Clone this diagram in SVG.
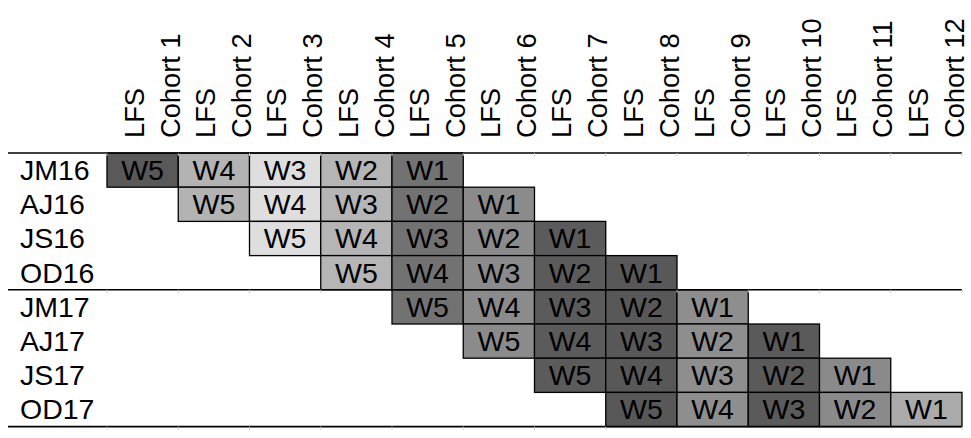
<svg xmlns="http://www.w3.org/2000/svg" width="971" height="438" viewBox="0 0 971 438">
<style>
text{font-family:"Liberation Sans",Arial,sans-serif;font-size:28.5px;fill:#000}
.cell rect{stroke:#000;stroke-width:1.3}
.c{text-anchor:middle}
.rule{stroke:#000;stroke-width:1.6}
.tick{stroke:#c8c8c8;stroke-width:1}
.k1{fill:#595959}.k2{fill:#b3b3b3}.k3{fill:#dedede}.k4{fill:#b5b5b5}.k5{fill:#727272}.k6{fill:#8b8b8b}
.k7{fill:#5b5b5b}.k8{fill:#585858}.k9{fill:#8e8e8e}.k10{fill:#5a5a5a}.k11{fill:#8a8a8a}.k12{fill:#aaaaaa}
</style>
<defs>
<g id="hdr"/>
</defs>
<rect width="971" height="438" fill="#fff"/>
<g id="headers">
<g id="h1" transform="translate(107,138) rotate(-90) scale(0.957,1)"><text x="0" y="37">LFS</text><text x="0" y="73">Cohort 1</text></g>
<g id="h2" transform="translate(178.25,138) rotate(-90) scale(0.957,1)"><text x="0" y="37">LFS</text><text x="0" y="73">Cohort 2</text></g>
<g id="h3" transform="translate(249.5,138) rotate(-90) scale(0.957,1)"><text x="0" y="37">LFS</text><text x="0" y="73">Cohort 3</text></g>
<g id="h4" transform="translate(320.75,138) rotate(-90) scale(0.957,1)"><text x="0" y="37">LFS</text><text x="0" y="73">Cohort 4</text></g>
<g id="h5" transform="translate(392,138) rotate(-90) scale(0.957,1)"><text x="0" y="37">LFS</text><text x="0" y="73">Cohort 5</text></g>
<g id="h6" transform="translate(463.25,138) rotate(-90) scale(0.957,1)"><text x="0" y="37">LFS</text><text x="0" y="73">Cohort 6</text></g>
<g id="h7" transform="translate(534.5,138) rotate(-90) scale(0.957,1)"><text x="0" y="37">LFS</text><text x="0" y="73">Cohort 7</text></g>
<g id="h8" transform="translate(605.75,138) rotate(-90) scale(0.957,1)"><text x="0" y="37">LFS</text><text x="0" y="73">Cohort 8</text></g>
<g id="h9" transform="translate(677,138) rotate(-90) scale(0.957,1)"><text x="0" y="37">LFS</text><text x="0" y="73">Cohort 9</text></g>
<g id="h10" transform="translate(748.25,138) rotate(-90) scale(0.957,1)"><text x="0" y="37">LFS</text><text x="0" y="73">Cohort 10</text></g>
<g id="h11" transform="translate(819.5,138) rotate(-90) scale(0.957,1)"><text x="0" y="37">LFS</text><text x="0" y="73">Cohort 11</text></g>
<g id="h12" transform="translate(890.75,138) rotate(-90) scale(0.957,1)"><text x="0" y="37">LFS</text><text x="0" y="73">Cohort 12</text></g>
</g>
<g id="rowlabels">
<g id="r1"><text x="20" y="180">JM16</text></g>
<g id="r2"><text x="20" y="214.2">AJ16</text></g>
<g id="r3"><text x="20" y="248.4">JS16</text></g>
<g id="r4"><text x="20" y="282.6">OD16</text></g>
<g id="r5"><text x="20" y="316.8">JM17</text></g>
<g id="r6"><text x="20" y="351">AJ17</text></g>
<g id="r7"><text x="20" y="385.2">JS17</text></g>
<g id="r8"><text x="20" y="419.4">OD17</text></g>
</g>
<g id="cells">
<g class="cell" id="c1-1"><rect class="k1" x="107" y="153" width="71.25" height="34.2"/><text class="c" x="142.6" y="180">W5</text></g>
<g class="cell" id="c1-2"><rect class="k2" x="178.25" y="153" width="71.25" height="34.2"/><text class="c" x="213.9" y="180">W4</text></g>
<g class="cell" id="c1-3"><rect class="k3" x="249.5" y="153" width="71.25" height="34.2"/><text class="c" x="285.1" y="180">W3</text></g>
<g class="cell" id="c1-4"><rect class="k4" x="320.75" y="153" width="71.25" height="34.2"/><text class="c" x="356.4" y="180">W2</text></g>
<g class="cell" id="c1-5"><rect class="k5" x="392" y="153" width="71.25" height="34.2"/><text class="c" x="427.6" y="180">W1</text></g>
<g class="cell" id="c2-2"><rect class="k2" x="178.25" y="187.2" width="71.25" height="34.2"/><text class="c" x="213.9" y="214.2">W5</text></g>
<g class="cell" id="c2-3"><rect class="k3" x="249.5" y="187.2" width="71.25" height="34.2"/><text class="c" x="285.1" y="214.2">W4</text></g>
<g class="cell" id="c2-4"><rect class="k4" x="320.75" y="187.2" width="71.25" height="34.2"/><text class="c" x="356.4" y="214.2">W3</text></g>
<g class="cell" id="c2-5"><rect class="k5" x="392" y="187.2" width="71.25" height="34.2"/><text class="c" x="427.6" y="214.2">W2</text></g>
<g class="cell" id="c2-6"><rect class="k6" x="463.25" y="187.2" width="71.25" height="34.2"/><text class="c" x="498.9" y="214.2">W1</text></g>
<g class="cell" id="c3-3"><rect class="k3" x="249.5" y="221.4" width="71.25" height="34.2"/><text class="c" x="285.1" y="248.4">W5</text></g>
<g class="cell" id="c3-4"><rect class="k4" x="320.75" y="221.4" width="71.25" height="34.2"/><text class="c" x="356.4" y="248.4">W4</text></g>
<g class="cell" id="c3-5"><rect class="k5" x="392" y="221.4" width="71.25" height="34.2"/><text class="c" x="427.6" y="248.4">W3</text></g>
<g class="cell" id="c3-6"><rect class="k6" x="463.25" y="221.4" width="71.25" height="34.2"/><text class="c" x="498.9" y="248.4">W2</text></g>
<g class="cell" id="c3-7"><rect class="k7" x="534.5" y="221.4" width="71.25" height="34.2"/><text class="c" x="570.1" y="248.4">W1</text></g>
<g class="cell" id="c4-4"><rect class="k4" x="320.75" y="255.6" width="71.25" height="34.2"/><text class="c" x="356.4" y="282.6">W5</text></g>
<g class="cell" id="c4-5"><rect class="k5" x="392" y="255.6" width="71.25" height="34.2"/><text class="c" x="427.6" y="282.6">W4</text></g>
<g class="cell" id="c4-6"><rect class="k6" x="463.25" y="255.6" width="71.25" height="34.2"/><text class="c" x="498.9" y="282.6">W3</text></g>
<g class="cell" id="c4-7"><rect class="k7" x="534.5" y="255.6" width="71.25" height="34.2"/><text class="c" x="570.1" y="282.6">W2</text></g>
<g class="cell" id="c4-8"><rect class="k8" x="605.75" y="255.6" width="71.25" height="34.2"/><text class="c" x="641.4" y="282.6">W1</text></g>
<g class="cell" id="c5-5"><rect class="k5" x="392" y="289.8" width="71.25" height="34.2"/><text class="c" x="427.6" y="316.8">W5</text></g>
<g class="cell" id="c5-6"><rect class="k6" x="463.25" y="289.8" width="71.25" height="34.2"/><text class="c" x="498.9" y="316.8">W4</text></g>
<g class="cell" id="c5-7"><rect class="k7" x="534.5" y="289.8" width="71.25" height="34.2"/><text class="c" x="570.1" y="316.8">W3</text></g>
<g class="cell" id="c5-8"><rect class="k8" x="605.75" y="289.8" width="71.25" height="34.2"/><text class="c" x="641.4" y="316.8">W2</text></g>
<g class="cell" id="c5-9"><rect class="k9" x="677" y="289.8" width="71.25" height="34.2"/><text class="c" x="712.6" y="316.8">W1</text></g>
<g class="cell" id="c6-6"><rect class="k6" x="463.25" y="324" width="71.25" height="34.2"/><text class="c" x="498.9" y="351">W5</text></g>
<g class="cell" id="c6-7"><rect class="k7" x="534.5" y="324" width="71.25" height="34.2"/><text class="c" x="570.1" y="351">W4</text></g>
<g class="cell" id="c6-8"><rect class="k8" x="605.75" y="324" width="71.25" height="34.2"/><text class="c" x="641.4" y="351">W3</text></g>
<g class="cell" id="c6-9"><rect class="k9" x="677" y="324" width="71.25" height="34.2"/><text class="c" x="712.6" y="351">W2</text></g>
<g class="cell" id="c6-10"><rect class="k10" x="748.25" y="324" width="71.25" height="34.2"/><text class="c" x="783.9" y="351">W1</text></g>
<g class="cell" id="c7-7"><rect class="k7" x="534.5" y="358.2" width="71.25" height="34.2"/><text class="c" x="570.1" y="385.2">W5</text></g>
<g class="cell" id="c7-8"><rect class="k8" x="605.75" y="358.2" width="71.25" height="34.2"/><text class="c" x="641.4" y="385.2">W4</text></g>
<g class="cell" id="c7-9"><rect class="k9" x="677" y="358.2" width="71.25" height="34.2"/><text class="c" x="712.6" y="385.2">W3</text></g>
<g class="cell" id="c7-10"><rect class="k10" x="748.25" y="358.2" width="71.25" height="34.2"/><text class="c" x="783.9" y="385.2">W2</text></g>
<g class="cell" id="c7-11"><rect class="k11" x="819.5" y="358.2" width="71.25" height="34.2"/><text class="c" x="855.1" y="385.2">W1</text></g>
<g class="cell" id="c8-8"><rect class="k8" x="605.75" y="392.4" width="71.25" height="34.2"/><text class="c" x="641.4" y="419.4">W5</text></g>
<g class="cell" id="c8-9"><rect class="k9" x="677" y="392.4" width="71.25" height="34.2"/><text class="c" x="712.6" y="419.4">W4</text></g>
<g class="cell" id="c8-10"><rect class="k10" x="748.25" y="392.4" width="71.25" height="34.2"/><text class="c" x="783.9" y="419.4">W3</text></g>
<g class="cell" id="c8-11"><rect class="k11" x="819.5" y="392.4" width="71.25" height="34.2"/><text class="c" x="855.1" y="419.4">W2</text></g>
<g class="cell" id="c8-12"><rect class="k12" x="890.75" y="392.4" width="71.25" height="34.2"/><text class="c" x="926.4" y="419.4">W1</text></g>
</g>
<g id="grid">
<line class="rule" x1="8" y1="153" x2="962" y2="153"/>
<line class="rule" x1="8" y1="289.8" x2="962" y2="289.8"/>
<line class="rule" x1="8" y1="426.6" x2="962" y2="426.6"/>
<path class="tick" d="M107,153v3M178.25,153v3M249.5,153v3M320.75,153v3M392,153v3M463.25,153v3M534.5,153v3M605.75,153v3M677,153v3M748.25,153v3M819.5,153v3M890.75,153v3M962,153v3
M107,289.8v3M178.25,289.8v3M249.5,289.8v3M320.75,289.8v3M677,289.8v3M748.25,289.8v3M819.5,289.8v3M890.75,289.8v3M962,289.8v3
M107,426.6v3M178.25,426.6v3M249.5,426.6v3M320.75,426.6v3M392,426.6v3M463.25,426.6v3M534.5,426.6v3M605.75,426.6v3M962,426.6v3"/>
</g>
</svg>
